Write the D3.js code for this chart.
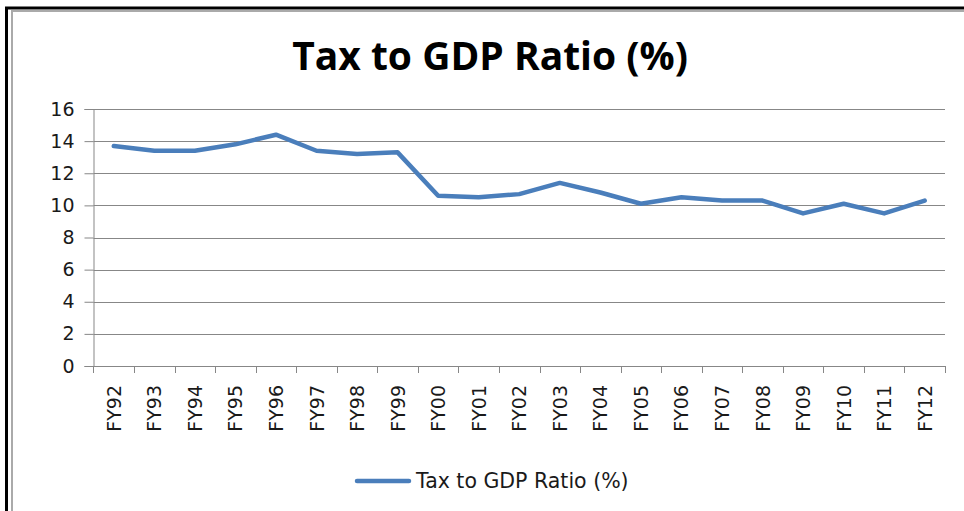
<!DOCTYPE html>
<html><head><meta charset="utf-8">
<script src="https://cdn.jsdelivr.net/npm/d3@7"></script>
<style>html,body{margin:0;padding:0;background:#fff;}svg{display:block;}</style>
</head><body>
<script>
const categories = ["FY92","FY93","FY94","FY95","FY96","FY97","FY98","FY99","FY00","FY01","FY02","FY03","FY04","FY05","FY06","FY07","FY08","FY09","FY10","FY11","FY12"];
const values = [13.7,13.4,13.4,13.8,14.4,13.4,13.2,13.3,10.6,10.5,10.7,11.4,10.8,10.1,10.5,10.3,10.3,9.5,10.1,9.5,10.3];
const yTicks = [0,2,4,6,8,10,12,14,16];
const seriesName = "Tax to GDP Ratio (%)";
const titleText = "Tax to GDP Ratio (%)";

(function(){
const W = 964, H = 511;
const FONT = "'DejaVu Sans', Verdana, sans-serif";
const svg = d3.select("body").append("svg").attr("width", W).attr("height", H);
svg.append("rect").attr("width", W).attr("height", H).attr("fill", "#fff");

// frame
svg.append("line").attr("x1",5).attr("x2",W).attr("y1",8).attr("y2",8).attr("stroke","#000").attr("stroke-width",3);
svg.append("line").attr("x1",6.5).attr("x2",6.5).attr("y1",7).attr("y2",H).attr("stroke","#000").attr("stroke-width",3);
svg.append("line").attr("x1",11).attr("x2",W).attr("y1",11).attr("y2",11).attr("stroke","#aaa").attr("stroke-width",2);
svg.append("line").attr("x1",12).attr("x2",12).attr("y1",11).attr("y2",H).attr("stroke","#aaa").attr("stroke-width",2);

const pLeft = 93.5, pRight = 945, pTop = 109, pBottom = 366;
const x = d3.scaleBand().domain(categories).range([pLeft, pRight]);
const y = d3.scaleLinear().domain([0,16]).range([pBottom, pTop]);

// title
svg.append("text").attr("x", 490).attr("y", 70).attr("text-anchor","middle")
  .attr("font-family","'Open Sans', sans-serif").attr("font-weight","bold").attr("font-size",39)
  .attr("fill","#000").text(titleText);

// gridlines
svg.append("g").selectAll("line").data(yTicks.filter(d=>d>0)).join("line")
  .attr("x1", pLeft).attr("x2", pRight).attr("y1", d=>Math.round(y(d))+0.5).attr("y2", d=>Math.round(y(d))+0.5)
  .attr("stroke","#878787").attr("stroke-width",1);

// y axis
const yAxis = svg.append("g").attr("transform",`translate(${pLeft},0)`)
  .call(d3.axisLeft(y).tickValues(yTicks).tickSize(9).tickPadding(10).tickFormat(d3.format("d")));
yAxis.select(".domain").attr("stroke","#878787");
yAxis.selectAll(".tick line").attr("stroke","#878787");
yAxis.selectAll(".tick text").attr("font-family",FONT).attr("font-size",19).attr("fill","#1a1a1a");

// x axis
const xAxis = svg.append("g").attr("transform",`translate(0,${pBottom})`)
  .call(d3.axisBottom(x).tickSize(0).tickFormat(""));
xAxis.select(".domain").attr("stroke","#878787").attr("d", `M${pLeft},0.5H${pRight}`);
const bounds = categories.map(c=>x(c)).concat([pRight]);
svg.append("g").selectAll("line").data(bounds).join("line")
  .attr("x1", d=>Math.round(d)+0.5).attr("x2", d=>Math.round(d)+0.5)
  .attr("y1", pBottom).attr("y2", pBottom+7).attr("stroke","#878787");
svg.append("g").selectAll("text").data(categories).join("text")
  .attr("transform", d=>`translate(${x(d)+x.bandwidth()/2+7},${pBottom+19}) rotate(-90)`)
  .attr("text-anchor","end")
  .attr("font-family",FONT).attr("font-size",19).attr("fill","#1a1a1a")
  .text(d=>d);

// line
const line = d3.line().x((d,i)=>x(categories[i])+x.bandwidth()/2).y(d=>y(d));
svg.append("path").datum(values).attr("d", line).attr("fill","none")
  .attr("stroke","#4a7ebb").attr("stroke-width",4.5).attr("stroke-linejoin","round").attr("stroke-linecap","round");

// legend
svg.append("line").attr("x1",357).attr("x2",409).attr("y1",481).attr("y2",481)
  .attr("stroke","#4a7ebb").attr("stroke-width",4.5).attr("stroke-linecap","round");
svg.append("text").attr("x",416).attr("y",488)
  .attr("font-family",FONT).attr("font-size",20.5).attr("fill","#1a1a1a").text(seriesName);
})();
</script>
</body></html>
